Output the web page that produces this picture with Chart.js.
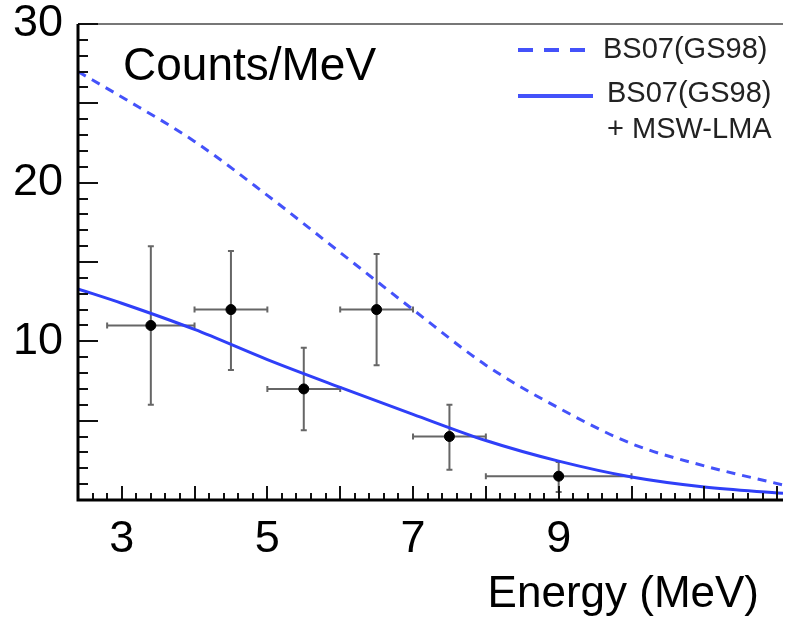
<!DOCTYPE html>
<html>
<head>
<meta charset="utf-8">
<script src="https://cdn.jsdelivr.net/npm/chart.js@4/dist/chart.umd.min.js"></script>
<style>
  html, body { margin: 0; padding: 0; background: #fff; }
  #wrap { width: 789px; height: 618px; }
</style>
</head>
<body>
<div id="wrap"><canvas id="chart" width="789" height="618"></canvas></div>
<script>
// Energy axis range and labelled ticks
const energyMin = 2.4;
const energyMax = 12.08;
const energyLabelTicks = [3, 5, 7, 9];
const countLabelTicks = [10, 20, 30];

// Measured points (bin centre, counts, bin edges, error range)
const pointEnergy = [3.4, 4.5, 5.5, 6.5, 7.5, 9.0];
const pointCounts = [11.0, 12.0, 7.0, 12.0, 4.0, 1.5];
const pointEnergyLow = [2.8, 4.0, 5.0, 6.0, 7.0, 8.0];
const pointEnergyHigh = [4.0, 5.0, 6.0, 7.0, 8.0, 10.0];
const pointCountsLow = [6.0, 8.2, 4.4, 8.5, 1.9, 0.5];
const pointCountsHigh = [16.0, 15.7, 9.6, 15.5, 6.0, 2.4];

// BS07(GS98) prediction without oscillation (dashed)
const noOscEnergy = [2.4, 3, 4, 5, 6, 7, 8, 9, 10, 11, 12.08];
const noOscCounts = [27.0, 25.4, 22.6, 19.2, 15.6, 12.0, 8.5, 5.8, 3.55, 2.15, 0.95];

// BS07(GS98) + MSW-LMA prediction (solid)
const mswEnergy = [2.4, 3, 4, 5, 6, 7, 8, 9, 10, 11, 12.08];
const mswCounts = [13.3, 12.4, 10.75, 8.85, 7.1, 5.4, 3.75, 2.45, 1.45, 0.82, 0.42];

const FONT = '"Liberation Sans", Arial, sans-serif';
const BLUE = '#2f3ff8';
const BLUE_DASH = '#4452fa';

const zip = (xs, ys) => xs.map((x, i) => ({ x: x, y: ys[i] }));

// inward ticks, top frame, error bars, legend and labels
const framePlugin = {
    id: 'frame',
    beforeDatasetsDraw(chart) {
        const ctx = chart.ctx;
        const xs = chart.scales.x;
        const ys = chart.scales.y;
        ctx.save();
        ctx.strokeStyle = '#666';
        ctx.lineWidth = 2;
        for (let i = 0; i < pointEnergy.length; i++) {
            const px = xs.getPixelForValue(pointEnergy[i]);
            const py = ys.getPixelForValue(pointCounts[i]);
            const x0 = xs.getPixelForValue(pointEnergyLow[i]);
            const x1 = xs.getPixelForValue(pointEnergyHigh[i]);
            const y0 = ys.getPixelForValue(pointCountsLow[i]);
            const y1 = ys.getPixelForValue(pointCountsHigh[i]);
            ctx.beginPath();
            ctx.moveTo(x0, py); ctx.lineTo(x1, py);
            ctx.moveTo(px, y0); ctx.lineTo(px, y1);
            // little end caps
            ctx.moveTo(x0, py - 3); ctx.lineTo(x0, py + 3);
            ctx.moveTo(x1, py - 3); ctx.lineTo(x1, py + 3);
            ctx.moveTo(px - 3, y0); ctx.lineTo(px + 3, y0);
            ctx.moveTo(px - 3, y1); ctx.lineTo(px + 3, y1);
            ctx.stroke();
        }
        ctx.restore();
    },
    afterDraw(chart) {
        const ctx = chart.ctx;
        const area = chart.chartArea;
        const xs = chart.scales.x;
        const ys = chart.scales.y;
        ctx.save();

        // top frame
        ctx.strokeStyle = '#777';
        ctx.lineWidth = 2;
        ctx.beginPath();
        ctx.moveTo(area.left, area.top);
        ctx.lineTo(area.right, area.top);
        ctx.stroke();

        // tick marks pointing inwards
        ctx.strokeStyle = '#111';
        ctx.lineWidth = 2;
        ctx.beginPath();
        for (let v = 0; v <= 30; v++) {
            const y = Math.round(ys.getPixelForValue(v));
            const len = v % 5 === 0 ? 20 : 10;
            ctx.moveTo(area.left, y);
            ctx.lineTo(area.left + len, y);
        }
        for (let k = 12; k <= 60; k++) {
            const e = k / 5;
            if (e < energyMin || e > energyMax) continue;
            const x = Math.round(xs.getPixelForValue(e));
            const len = k % 5 === 0 ? 14 : 7;
            ctx.moveTo(x, area.bottom);
            ctx.lineTo(x, area.bottom - len);
        }
        ctx.stroke();

        // axis lines
        ctx.strokeStyle = '#000';
        ctx.lineWidth = 3;
        ctx.beginPath();
        ctx.moveTo(area.left, area.top);
        ctx.lineTo(area.left, area.bottom);
        ctx.lineTo(area.right, area.bottom);
        ctx.stroke();

        // title inside the frame
        ctx.fillStyle = '#000';
        ctx.font = '46px ' + FONT;
        ctx.textAlign = 'left';
        ctx.textBaseline = 'alphabetic';
        ctx.fillText('Counts/MeV', 123, 80);

        // x axis title
        ctx.font = '44px ' + FONT;
        ctx.textAlign = 'right';
        ctx.fillText('Energy (MeV)', 759, 607);

        // legend
        ctx.lineWidth = 4;
        ctx.strokeStyle = BLUE_DASH;
        ctx.setLineDash([15, 11]);
        ctx.beginPath();
        ctx.moveTo(518, 50); ctx.lineTo(590, 50);
        ctx.stroke();
        ctx.setLineDash([]);
        ctx.beginPath();
        ctx.moveTo(518, 96); ctx.lineTo(593, 96);
        ctx.stroke();

        ctx.fillStyle = '#222';
        ctx.font = '29px ' + FONT;
        ctx.textAlign = 'left';
        ctx.fillText('BS07(GS98)', 603, 58);
        ctx.fillText('BS07(GS98)', 607, 102);
        ctx.fillText('+ MSW-LMA', 607, 138);
        ctx.restore();
    }
};

const ctx = document.getElementById('chart').getContext('2d');
new Chart(ctx, {
    type: 'scatter',
    data: {
        datasets: [
            {
                label: 'Data',
                data: zip(pointEnergy, pointCounts),
                backgroundColor: '#000',
                borderColor: '#000',
                pointRadius: 5,
                showLine: false,
                order: 0
            },
            {
                label: 'BS07(GS98) + MSW-LMA',
                data: zip(mswEnergy, mswCounts),
                borderColor: BLUE,
                borderWidth: 3,
                pointRadius: 0,
                showLine: true,
                cubicInterpolationMode: 'monotone',
                order: 1
            },
            {
                label: 'BS07(GS98)',
                data: zip(noOscEnergy, noOscCounts),
                borderColor: BLUE_DASH,
                borderWidth: 3,
                borderDash: [9, 7],
                pointRadius: 0,
                showLine: true,
                cubicInterpolationMode: 'monotone',
                order: 2
            }
        ]
    },
    options: {
        responsive: false,
        animation: false,
        devicePixelRatio: 1,
        layout: { padding: { top: 24, right: 0, left: 0, bottom: 0 } },
        plugins: {
            legend: { display: false },
            tooltip: { enabled: false }
        },
        scales: {
            x: {
                type: 'linear',
                min: energyMin,
                max: energyMax,
                grid: { display: false, drawTicks: false },
                border: { display: false },
                afterBuildTicks: (scale) => {
                    scale.ticks = energyLabelTicks.map(v => ({ value: v }));
                },
                afterFit: (scale) => {
                    scale.height = 118;
                    scale.paddingLeft = 0;
                    scale.paddingRight = 0;
                },
                ticks: {
                    color: '#000',
                    padding: 13,
                    maxRotation: 0,
                    autoSkip: false,
                    font: { family: FONT, size: 45 },
                    callback: (v) => String(v)
                }
            },
            y: {
                type: 'linear',
                min: 0,
                max: 30,
                grid: { display: false, drawTicks: false },
                border: { display: false },
                afterBuildTicks: (scale) => {
                    scale.ticks = countLabelTicks.map(v => ({ value: v }));
                },
                afterFit: (scale) => {
                    scale.width = 78;
                    scale.paddingTop = 0;
                    scale.paddingBottom = 0;
                },
                ticks: {
                    color: '#000',
                    padding: 15,
                    autoSkip: false,
                    font: { family: FONT, size: 45 },
                    callback: (v) => String(v)
                }
            }
        }
    },
    plugins: [framePlugin]
});
</script>
</body>
</html>
